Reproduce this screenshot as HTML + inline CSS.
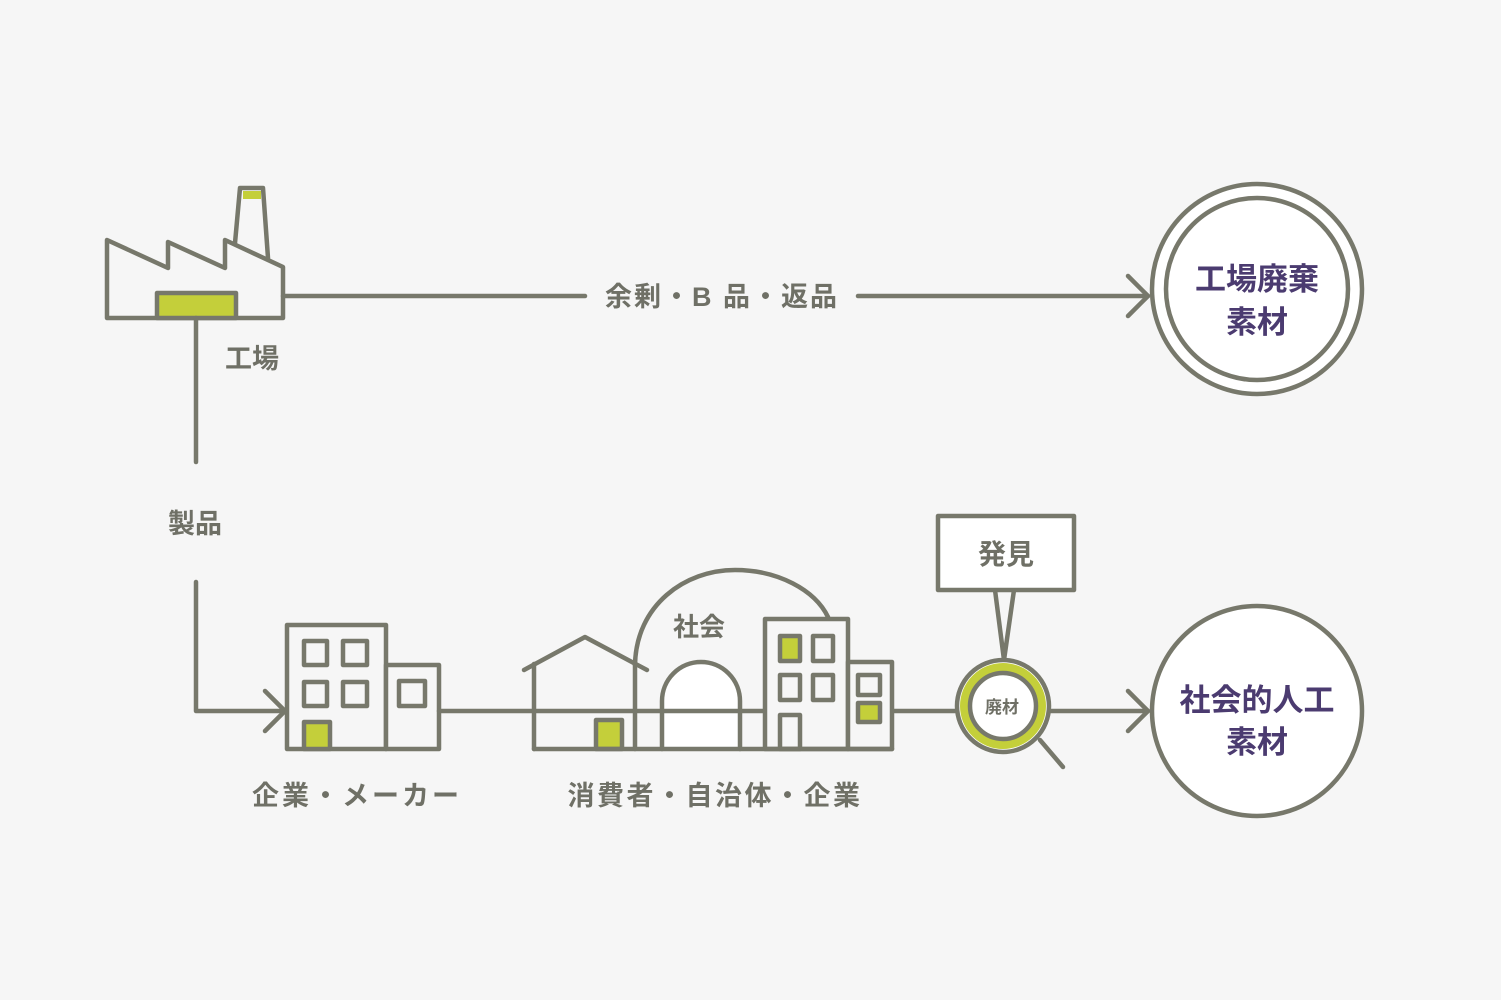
<!DOCTYPE html>
<html><head><meta charset="utf-8"><style>
html,body{margin:0;padding:0;background:#f6f6f6;}
svg{display:block}
text{font-family:"Liberation Sans","Noto Sans CJK JP",sans-serif;font-weight:bold;}
</style></head><body>
<svg width="1501" height="1000" viewBox="0 0 1501 1000" xmlns="http://www.w3.org/2000/svg">
<rect width="1501" height="1000" fill="#f6f6f6"/>
<g stroke="#77786b" stroke-width="4.5" fill="none" stroke-linejoin="round" stroke-linecap="round">
<!-- factory -->
<polygon points="107,240 168,268 168,242 225,268 225,240 283,267 283,318 107,318" fill="#f6f6f6"/>
<polyline points="235,243 240,188 263,188 268,258"/>
<rect x="243" y="191" width="18" height="8" fill="#c4cf3a" stroke="none"/>
<rect x="157" y="293" width="79" height="25" fill="#c4cf3a"/>
<!-- connectors -->
<line x1="283" y1="296" x2="585" y2="296"/>
<line x1="858" y1="296" x2="1148" y2="296"/>
<polyline points="1128,276 1148,296 1128,316"/>
<line x1="196" y1="318" x2="196" y2="462"/>
<polyline points="196,582 196,711 285,711"/>
<polyline points="265,691 285,711 265,731"/>
<line x1="1049" y1="711" x2="1148" y2="711"/>
<polyline points="1128,691 1148,711 1128,731"/>
<!-- circles -->
<circle cx="1257" cy="289" r="105" fill="#fff"/>
<circle cx="1257" cy="289" r="91"/>
<circle cx="1257" cy="711" r="105" fill="#fff"/>
<!-- company building -->
<rect x="287" y="625" width="99" height="124" fill="#f6f6f6"/>
<rect x="386" y="665" width="53" height="84" fill="#f6f6f6"/>
<rect x="304" y="641" width="23" height="24"/><rect x="343" y="641" width="24" height="24"/>
<rect x="304" y="682" width="23" height="24"/><rect x="343" y="682" width="24" height="24"/>
<rect x="399" y="681" width="26" height="25"/>
<rect x="304" y="722" width="26" height="27" fill="#c4cf3a"/>
<!-- society -->
<path d="M635,665 C636,605 685,570 735,570 C778,570 815,590 828,617"/>
<path d="M662,749 L662,701 A39,39 0 0 1 740,701 L740,749" fill="#fff"/>
<line x1="439" y1="711" x2="955" y2="711"/>
<polyline points="524,670 585,637 647,670"/>
<line x1="534" y1="664" x2="534" y2="749"/>
<line x1="635" y1="664" x2="635" y2="749"/>
<rect x="596" y="720" width="26" height="29" fill="#c4cf3a"/>
<rect x="765" y="619" width="83" height="130" fill="#f6f6f6"/>
<rect x="848" y="662" width="44" height="87" fill="#f6f6f6"/>
<rect x="780" y="636" width="20" height="25" fill="#c4cf3a"/><rect x="813" y="636" width="20" height="25"/>
<rect x="780" y="675" width="20" height="25"/><rect x="813" y="675" width="20" height="25"/>
<rect x="780" y="715" width="20" height="34"/>
<rect x="858" y="675" width="22" height="20"/><rect x="858" y="703" width="22" height="19" fill="#c4cf3a"/>
<line x1="534" y1="749" x2="892" y2="749"/>
<!-- magnifier -->
<path d="M995,590 L1004,660 L1014,590"/>
<rect x="938" y="516" width="136" height="74" fill="#fff"/>
<line x1="1040" y1="740" x2="1063" y2="767"/>
<circle cx="1003" cy="706" r="46" fill="#fff"/>
<circle cx="1003" cy="706" r="38.5" stroke="#c4cf3a" stroke-width="9"/>
<circle cx="1003" cy="706" r="33"/>
</g>
<g fill="#6f7066" text-anchor="middle">
<text x="722" y="306" font-size="27" letter-spacing="2">余剰・B 品・返品</text>
<text x="252" y="368" font-size="27">工場</text>
<text x="195" y="533" font-size="27">製品</text>
<text x="357" y="805" font-size="27" letter-spacing="3">企業・メーカー</text>
<text x="715" y="805" font-size="27" letter-spacing="2.5">消費者・自治体・企業</text>
<text x="699" y="636" font-size="26">社会</text>
<text x="1006" y="564" font-size="28">発見</text>
<text x="1002" y="713" font-size="17">廃材</text>
</g>
<g fill="#4b3b70" text-anchor="middle" font-size="31">
<text x="1257" y="290">工場廃棄</text>
<text x="1257" y="333">素材</text>
<text x="1257" y="711">社会的人工</text>
<text x="1257" y="753">素材</text>
</g>
</svg>
</body></html>
